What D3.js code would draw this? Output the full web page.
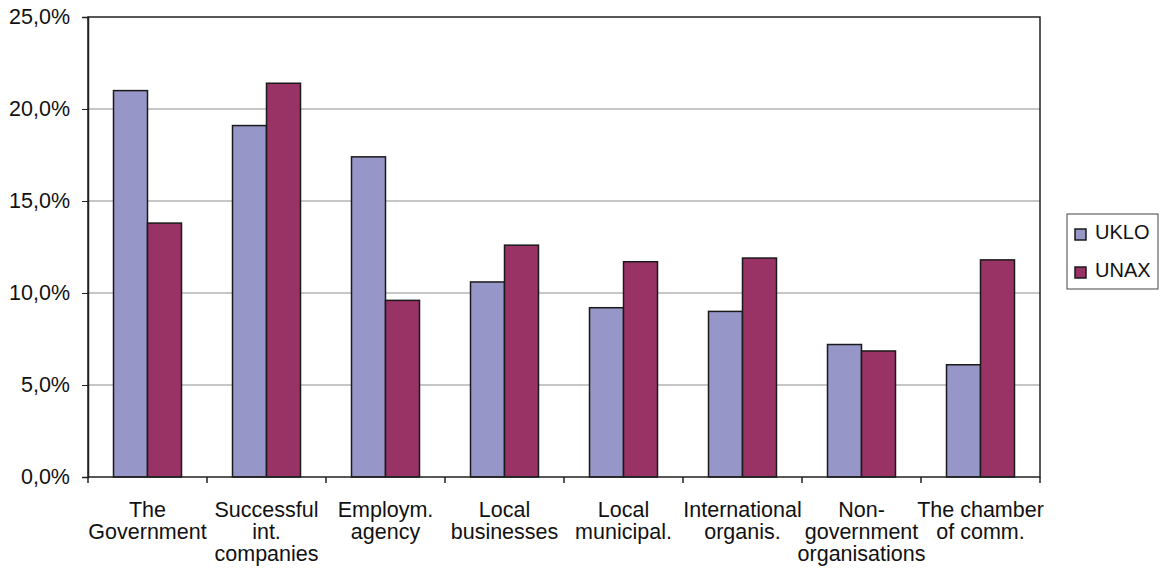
<!DOCTYPE html>
<html>
<head>
<meta charset="utf-8">
<script src="https://cdn.jsdelivr.net/npm/d3@7"></script>
<style>
    body { margin: 0; background: #fff; }
    text { font-family: "Liberation Sans", Arial, sans-serif; fill: #111; }
</style>
</head>
<body>
<svg id="chart" width="1161" height="580"></svg>
<script>
const categories = [
    ["The", "Government"],
    ["Successful", "int.", "companies"],
    ["Employm.", "agency"],
    ["Local", "businesses"],
    ["Local", "municipal."],
    ["International", "organis."],
    ["Non-", "government", "organisations"],
    ["The chamber", "of comm."]
];
const seriesNames = ["UKLO", "UNAX"];
const ukloValues = [21.0, 19.1, 17.4, 10.6, 9.2, 9.0, 7.2, 6.1];
const unaxValues = [13.8, 21.4, 9.6, 12.6, 11.7, 11.9, 6.85, 11.8];
const yTicks = [0, 5, 10, 15, 20, 25];
const colors = ["#9696c8", "#993366"];

const svg = d3.select("#chart");
const margin = { left: 88, right: 121, top: 17, bottom: 103 };
const width = 1161 - margin.left - margin.right;
const height = 580 - margin.top - margin.bottom;
const g = svg.append("g").attr("transform", `translate(${margin.left},${margin.top})`);

const x = d3.scaleBand().domain(d3.range(categories.length)).range([0, width]).paddingInner(0).paddingOuter(0);
const y = d3.scaleLinear().domain([0, 25]).range([height, 0]);
// two bars per group, gap of 150% of a bar
const xInner = d3.scaleBand().domain([0, 1]).range([0, x.bandwidth()]).paddingOuter(0.75).paddingInner(0);

// gridlines
g.selectAll(".grid")
    .data(yTicks.filter(d => d > 0 && d < 25))
    .enter()
    .append("line")
    .attr("x1", 0)
    .attr("x2", width)
    .attr("y1", d => y(d))
    .attr("y2", d => y(d))
    .attr("stroke", "#b4b4b4")
    .attr("stroke-width", 1.5);

// bars
const data = categories.map((c, i) => [ukloValues[i], unaxValues[i]]);
const groups = g.selectAll(".group")
    .data(data)
    .enter()
    .append("g")
    .attr("transform", (d, i) => `translate(${x(i)},0)`);

groups.selectAll("rect")
    .data(d => d)
    .enter()
    .append("rect")
    .attr("x", (d, j) => xInner(j))
    .attr("y", d => y(d))
    .attr("width", xInner.bandwidth())
    .attr("height", d => height - y(d))
    .attr("fill", (d, j) => colors[j])
    .attr("stroke", "#1a1a1a")
    .attr("stroke-width", 1.5);

// plot border
g.append("rect")
    .attr("x", 0)
    .attr("y", 0)
    .attr("width", width)
    .attr("height", height)
    .attr("fill", "none")
    .attr("stroke", "#222")
    .attr("stroke-width", 1.5);

// y axis
const yAxis = d3.axisLeft(y)
    .tickValues(yTicks)
    .tickSize(6)
    .tickFormat(d => d3.format(".1f")(d).replace(".", ",") + "%");
const ya = g.append("g").call(yAxis);
ya.select(".domain").attr("stroke", "#222").attr("stroke-width", 1.5);
ya.selectAll(".tick line").attr("stroke", "#222");
ya.selectAll(".tick text")
    .attr("x", -18)
    .style("font-size", "21.5px")
    .style("font-family", "Liberation Sans, Arial, sans-serif")
    .attr("fill", "#111");

// x axis ticks at category boundaries
const xTickPos = d3.range(categories.length + 1).map(i => i * x.step());
g.selectAll(".xtick")
    .data(xTickPos)
    .enter()
    .append("line")
    .attr("x1", d => d)
    .attr("x2", d => d)
    .attr("y1", height)
    .attr("y2", height + 6)
    .attr("stroke", "#222")
    .attr("stroke-width", 1.5);

// x labels
const labels = g.selectAll(".xlabel")
    .data(categories)
    .enter()
    .append("text")
    .attr("text-anchor", "middle")
    .style("font-size", "21.5px")
    .attr("transform", (d, i) => `translate(${x(i) + x.bandwidth() / 2},${height + 40})`);
labels.selectAll("tspan")
    .data(d => d)
    .enter()
    .append("tspan")
    .attr("x", 0)
    .attr("dy", (d, k) => k === 0 ? 0 : 22)
    .text(d => d);

// legend
const legend = svg.append("g").attr("transform", "translate(1067,214)");
legend.append("rect")
    .attr("width", 91)
    .attr("height", 75)
    .attr("fill", "#fff")
    .attr("stroke", "#444")
    .attr("stroke-width", 1);
seriesNames.forEach((name, i) => {
    legend.append("rect")
        .attr("x", 8)
        .attr("y", 15 + i * 38)
        .attr("width", 11)
        .attr("height", 11)
        .attr("fill", colors[i])
        .attr("stroke", "#1a1a1a")
        .attr("stroke-width", 1.5);
    legend.append("text")
        .attr("x", 28)
        .attr("y", 25 + i * 38)
        .style("font-size", "20px")
        .text(name);
});
</script>
</body>
</html>
